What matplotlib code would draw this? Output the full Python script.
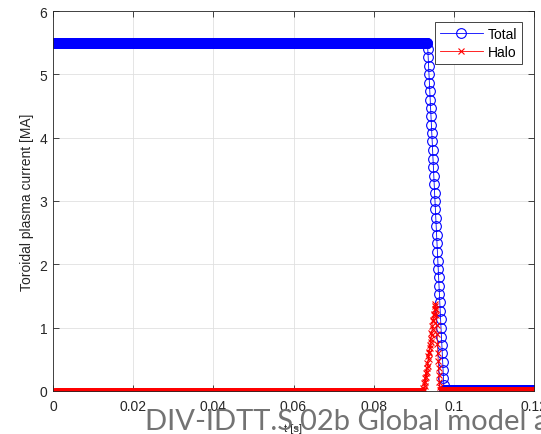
import numpy as np
import matplotlib
matplotlib.use("Agg")
import matplotlib.pyplot as plt

plt.rcParams['font.family'] = ['Liberation Sans', 'DejaVu Sans']

# ---- data ----
dt = 1e-4
t_end = 0.12
total_plateau = 5.5          # MA, before the quench
total_drop_start = 0.0935    # s
total_drop = [5.4, 5.27, 5.13, 5.0, 4.87, 4.74, 4.6, 4.47, 4.34, 4.2,
              4.07, 3.94, 3.8, 3.67, 3.54, 3.4, 3.27, 3.13, 3.0, 2.87,
              2.73, 2.6, 2.46, 2.33, 2.2, 2.06, 1.93, 1.8, 1.66, 1.53,
              1.4, 1.26, 1.13, 1.0, 0.86, 0.73, 0.6, 0.46, 0.33, 0.2, 0.1]
total_tail = 0.02

halo_base = 0.0
halo_rise_start = 0.0923     # s
halo_pulse = [0.0, 0.05, 0.02, 0.12, 0.08, 0.2, 0.15, 0.28, 0.22, 0.36,
              0.3, 0.45, 0.4, 0.55, 0.5, 0.62, 0.6, 0.72, 0.68, 0.82,
              0.78, 0.92, 0.88, 1.02, 0.98, 1.12, 1.1, 1.22, 1.2, 1.3,
              1.35, 1.38, 1.3, 1.2, 1.05, 0.9, 0.75, 0.6, 0.48, 0.36,
              0.25, 0.15, 0.07, 0.02]
halo_tail = 0.01

xticks = [0, 0.02, 0.04, 0.06, 0.08, 0.1, 0.12]
xticklabels = ['0', '0.02', '0.04', '0.06', '0.08', '0.1', '0.12']
yticks = [0, 1, 2, 3, 4, 5, 6]

# ---- build series on the sample grid ----
t = np.round(np.arange(0, t_end + dt / 2, dt), 6)
n = len(t)
i0 = int(round(total_drop_start / dt))
total = np.concatenate([np.full(i0, total_plateau), total_drop,
                        np.full(n - i0 - len(total_drop), total_tail)])
j0 = int(round(halo_rise_start / dt))
halo = np.concatenate([np.full(j0, halo_base), halo_pulse,
                       np.full(n - j0 - len(halo_pulse), halo_tail)])

# ---- figure ----
W, H = 541, 435
ax_l, ax_r, ax_t, ax_b = 53, 534, 12, 392
fig = plt.figure(figsize=(W / 100, H / 100), dpi=100)
ax = fig.add_axes([ax_l / W, 1 - ax_b / H, (ax_r - ax_l) / W, (ax_b - ax_t) / H])

ax.plot(t, total, color=(0, 0, 1), lw=0.6, marker='o', ms=7.0, mfc='none',
        mew=0.8, label='Total')
ax.plot(t, halo, color=(1, 0, 0), lw=0.6, marker='x', ms=4.5, mew=0.8,
        label='Halo')

ax.set_xlim(0, 0.12)
ax.set_ylim(0, 6)
ax.set_xticks(xticks)
ax.set_xticklabels(xticklabels)
ax.set_yticks(yticks)
ax.tick_params(direction='in', top=True, right=True, length=4, width=0.6,
               colors=(0.15, 0.15, 0.15), labelsize=10)
ax.tick_params(axis='x', pad=6)
ax.tick_params(axis='y', pad=4)
ax.grid(True, color=(0.88, 0.88, 0.88), lw=0.6)
ax.set_axisbelow(True)
for s in ax.spines.values():
    s.set_color((0.15, 0.15, 0.15))
    s.set_linewidth(0.6)

ax.set_ylabel('Toroidal plasma current [MA]', fontsize=10,
              color=(0.15, 0.15, 0.15), labelpad=4)
ax.set_xlabel('t [s]', fontsize=8, color=(0.15, 0.15, 0.15), labelpad=7)

leg = ax.legend(loc='upper right',
                bbox_to_anchor=((522 - ax_l) / (ax_r - ax_l),
                                1 - (23 - ax_t) / (ax_b - ax_t)),
                borderaxespad=0, fontsize=10, frameon=True, fancybox=False,
                edgecolor=(0.15, 0.15, 0.15), framealpha=1, borderpad=0.35,
                handlelength=3.1, handletextpad=0.35, labelspacing=0.3)
leg.get_frame().set_linewidth(0.6)

fig.text(145 / W, 1 - 430 / H, 'DIV-IDTT.S.02b Global model analysis',
         fontsize=21, color=(0.45, 0.45, 0.45), ha='left', va='baseline',
         family=['Lato', 'DejaVu Sans'])

fig.savefig('out.png', dpi=100)
